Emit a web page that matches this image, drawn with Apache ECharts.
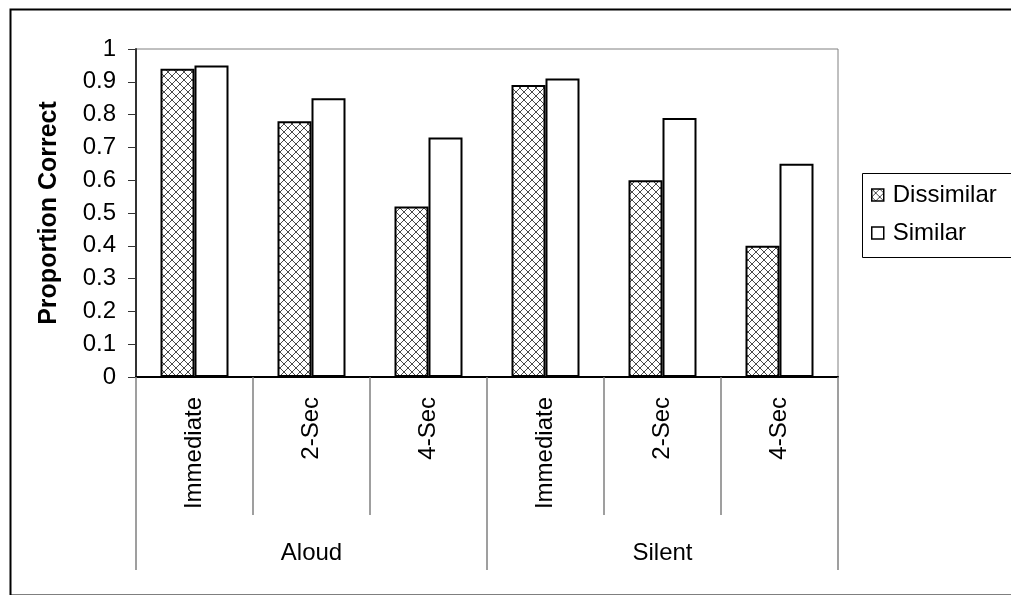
<!DOCTYPE html>
<html>
<head>
<meta charset="utf-8">
<script src="https://cdn.jsdelivr.net/npm/echarts@6/dist/echarts.min.js"></script>
<style>
html,body{margin:0;padding:0;background:#fff;}
#chart{width:1011px;height:595px;}
</style>
</head>
<body>
<div id="chart"></div>
<script>
var conditions = ['Immediate', '2-Sec', '4-Sec', 'Immediate', '2-Sec', '4-Sec'];
var groups = ['Aloud', 'Silent'];
var dissimilar = [0.94, 0.78, 0.52, 0.89, 0.60, 0.40];
var similar = [0.95, 0.85, 0.73, 0.91, 0.79, 0.65];
var seriesNames = ['Dissimilar', 'Similar'];

function makePattern() {
  var c = document.createElement('canvas');
  c.width = 8; c.height = 8;
  var ctx = c.getContext('2d');
  ctx.fillStyle = '#ffffff';
  ctx.fillRect(0, 0, 8, 8);
  ctx.strokeStyle = '#4a4a4a';
  ctx.lineWidth = 1;
  ctx.beginPath();
  ctx.moveTo(0, 0); ctx.lineTo(8, 8);
  ctx.moveTo(8, 0); ctx.lineTo(0, 8);
  ctx.stroke();
  return c;
}

var FONT = 'Liberation Sans, Arial, sans-serif';
var chart = echarts.init(document.getElementById('chart'), null, {renderer: 'canvas'});
var option = {
  backgroundColor: '#ffffff',
  animation: false,
  textStyle: {fontFamily: FONT, color: '#000'},
  grid: {left: 136, top: 49, right: 173, bottom: 218, show: true, borderColor: '#808080', borderWidth: 1, backgroundColor: 'transparent'},
  legend: {
    orient: 'vertical', left: 866, top: 178, itemGap: 14,
    itemWidth: 12, itemHeight: 12, icon: 'rect',
    data: seriesNames,
    textStyle: {fontFamily: FONT, fontSize: 24, color: '#000', padding: [0, 0, 0, 4]},
    itemStyle: {borderColor: '#000', borderWidth: 1.5}
  },
  xAxis: [
    {
      type: 'category', data: conditions, position: 'bottom',
      axisLine: {show: true, lineStyle: {color: '#000', width: 2}},
      axisTick: {show: true, interval: 0, length: 138, alignWithLabel: false, lineStyle: {color: '#808080', width: 1.5}},
      axisLabel: {interval: 0, rotate: 90, margin: 20, fontSize: 24, color: '#000', fontFamily: FONT},
      splitLine: {show: false}
    },
    {
      type: 'category', data: groups, position: 'bottom', offset: 0,
      axisLine: {show: false},
      axisTick: {show: true, interval: 0, length: 193, alignWithLabel: false, lineStyle: {color: '#808080', width: 1.5}},
      axisLabel: {interval: 0, margin: 164, fontSize: 24, color: '#000', fontFamily: FONT},
      splitLine: {show: false}
    }
  ],
  yAxis: {
    type: 'value', min: 0, max: 1, interval: 0.1,
    name: 'Proportion Correct', nameLocation: 'middle', nameGap: 74, nameRotate: 90,
    nameTextStyle: {fontSize: 25, fontWeight: 'bold', color: '#000', fontFamily: FONT},
    axisLine: {show: true, lineStyle: {color: '#333', width: 2}},
    axisTick: {show: true, length: 8, lineStyle: {color: '#333', width: 1}},
    axisLabel: {margin: 20, fontSize: 24, color: '#000', fontFamily: FONT,
      formatter: function (v) { return String(Math.round(v * 10) / 10); }},
    splitLine: {show: false}
  },
  series: [
    {
      name: seriesNames[0], type: 'bar', data: dissimilar, xAxisIndex: 0,
      barWidth: 34, barGap: '0%',
      itemStyle: {color: {image: makePattern(), repeat: 'repeat'}, borderColor: '#000', borderWidth: 2}
    },
    {
      name: seriesNames[1], type: 'bar', data: similar, xAxisIndex: 0,
      barWidth: 34, barGap: '0%',
      itemStyle: {color: '#ffffff', borderColor: '#000', borderWidth: 2}
    }
  ],
  graphic: [
    {type: 'rect', left: 8, top: 7, shape: {x: 0, y: 0, width: 1100, height: 586}, style: {fill: 'none', stroke: '#000', lineWidth: 2}, silent: true, z: 100},
    {type: 'rect', left: 860, top: 171, shape: {x: 0, y: 0, width: 200, height: 84}, style: {fill: 'none', stroke: '#000', lineWidth: 1}, silent: true, z: 100}
  ]
};
chart.setOption(option);
</script>
</body>
</html>
